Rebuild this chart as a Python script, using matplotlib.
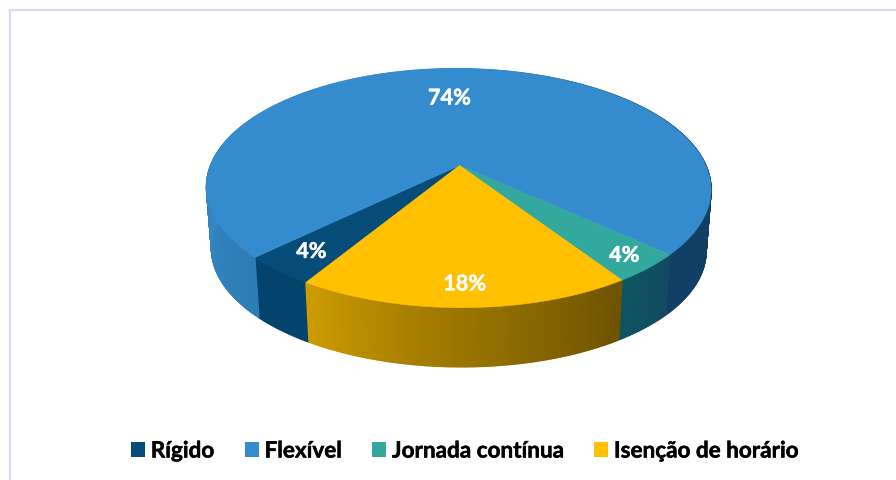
import numpy as np
import matplotlib.pyplot as plt
import matplotlib.patheffects as path_effects
from matplotlib.collections import PolyCollection
from matplotlib.colors import to_rgb, LinearSegmentedColormap
from matplotlib.patches import Patch

labels = ['Rígido', 'Flexível', 'Jornada contínua', 'Isenção de horário']
values = [4, 74, 4, 18]
value_labels = ['4%', '74%', '4%', '18%']
colors = ['#064c78', '#348ccf', '#33a99d', '#ffc000']
first_angle = 208.96

# цвета боковой стенки по углу (от начала к концу сектора)
side_colors = [
    ['#04446c', '#04446c'],
    ['#2d7cb6', '#3a8dcb', '#3a8dcb', '#123f66', '#123f66'],
    ['#124a62', '#0e5560'],
    ['#6e5200', '#8a6900', '#a88000', '#cc9c00'],
]
label_radius = [0.84, 0.66, 0.89, 0.86]
label_shift = [0, -7, 0, 0]

# перспектива наклонённого круга, подобрана по картинке
cx, cy = 459.5, 166.5
a, c, d, e, p, r = 247.5, 9.77, 5.91, -115.0, 0.19, -0.0046
bottom_scale, bottom_drop = 0.98, 62


def top_point(theta, rad=1.0):
    X = rad * np.sin(np.radians(theta))
    Y = rad * np.cos(np.radians(theta))
    w = 1 + p * Y + r * X
    return cx + (a * X + c * Y) / w, cy + (d * X + e * Y) / w


def bottom_point(theta):
    x, y = top_point(theta)
    return cx + bottom_scale * (x - cx), cy + bottom_drop + bottom_scale * (y - cy)


fig = plt.figure(figsize=(8.96, 4.81), dpi=100)
ax = fig.add_axes([0, 0, 1, 1])
ax.set_xlim(0, 896)
ax.set_ylim(481, 0)
ax.axis('off')

# рамка слева и сверху
ax.plot([9.5, 9.5, 896], [481, 11, 11], color='#dcd8f2', lw=1.6, solid_joinstyle='miter', zorder=1)

spans = np.array(values) / sum(values) * 360
starts = first_angle + np.r_[0, np.cumsum(spans[:-1])]

for start, span, side in zip(starts, spans, side_colors):
    cmap = LinearSegmentedColormap.from_list('side', [to_rgb(k) for k in side])
    th = np.linspace(start, start + span, max(int(span * 2), 2) + 1)
    quads = []
    quad_colors = []
    for i in range(len(th) - 1):
        x0, y0 = top_point(th[i])
        x1, y1 = top_point(th[i + 1])
        x2, y2 = bottom_point(th[i + 1])
        x3, y3 = bottom_point(th[i])
        quads.append([(x0, y0), (x1, y1), (x2, y2), (x3, y3)])
        quad_colors.append(cmap((i + 0.5) / (len(th) - 1)))
    ax.add_collection(PolyCollection(quads, facecolors=quad_colors, edgecolors=quad_colors,
                                     linewidths=1.0, zorder=2))

thick_white = [path_effects.withStroke(linewidth=0.35, foreground='white')]
thick_black = [path_effects.withStroke(linewidth=0.35, foreground='black')]

for start, span, col, lab, rad, shift in zip(starts, spans, colors, value_labels, label_radius, label_shift):
    th = np.linspace(start, start + span, max(int(span), 2) + 1)
    xs, ys = top_point(th)
    ax.fill(np.r_[cx, xs], np.r_[cy, ys], color=col, lw=0.4, zorder=3)
    lx, ly = top_point(start + span / 2, rad)
    ax.text(lx + shift, ly, lab, color='white', fontsize=15.6, fontweight='bold', family='Lato',
            ha='center', va='center', zorder=4, path_effects=thick_white)

handles = [Patch(facecolor=k, edgecolor='none', label=n) for k, n in zip(colors, labels)]
leg = ax.legend(handles=handles, loc='center', bbox_to_anchor=(464.5 / 896, 1 - 452 / 481),
                ncol=4, frameon=False, handlelength=0.64, handleheight=0.64,
                handletextpad=0.25, columnspacing=1.35,
                prop={'family': 'Lato', 'weight': 'bold', 'size': 16.2})
for t in leg.get_texts():
    t.set_path_effects(thick_black)

fig.savefig('out.png', dpi=100)
